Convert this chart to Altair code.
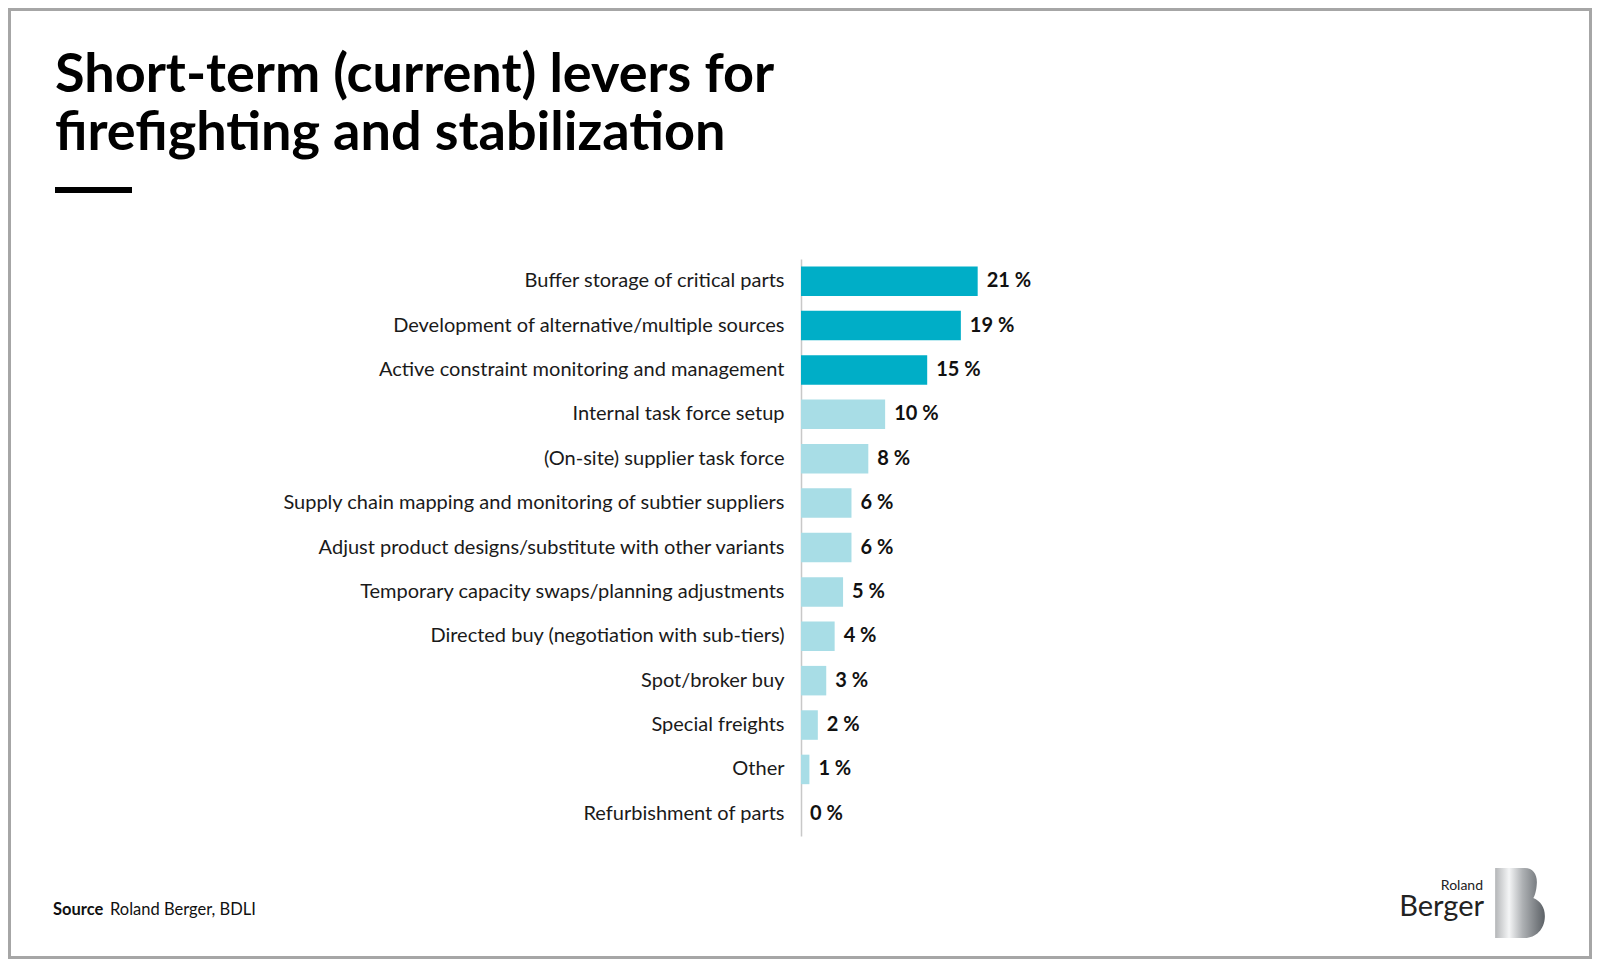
import altair as alt
import pandas as pd

categories = [
    "Buffer storage of critical parts",
    "Development of alternative/multiple sources",
    "Active constraint monitoring and management",
    "Internal task force setup",
    "(On-site) supplier task force",
    "Supply chain mapping and monitoring of subtier suppliers",
    "Adjust product designs/substitute with other variants",
    "Temporary capacity swaps/planning adjustments",
    "Directed buy (negotiation with sub-tiers)",
    "Spot/broker buy",
    "Special freights",
    "Other",
    "Refurbishment of parts",
]
values = [21, 19, 15, 10, 8, 6, 6, 5, 4, 3, 2, 1, 0]
highlight = ["top", "top", "top"] + ["rest"] * 10
title_lines = ["Short-term (current) levers for", "firefighting and stabilization"]
source_label = "Source"
source_text = "Roland Berger, BDLI"

df = pd.DataFrame({
    "cat": categories,
    "val": values,
    "grp": highlight,
    "lab": [f"{v} %" for v in values],
})

FONT = "Lato"
W, H = 700, 577
PL, PT = 793, 251
CW, CH = 1584, 951

yenc = alt.Y("cat:N", sort=categories, title=None,
             scale=alt.Scale(paddingInner=0.335, paddingOuter=0.1675),
             axis=alt.Axis(ticks=False, domainColor="#c8c8c8", domainWidth=1.5,
                           labelFont=FONT, labelFontSize=20, labelColor="#1a1a1a",
                           labelPadding=17, labelLimit=700))
xenc = alt.X("val:Q", scale=alt.Scale(domain=[0, 83.2]), axis=None)

bars = alt.Chart(df).mark_bar().encode(
    x=xenc, y=yenc,
    color=alt.Color("grp:N", scale=alt.Scale(domain=["top", "rest"], range=["#00AEC7", "#A8DDE6"]), legend=None),
)
labels = alt.Chart(df).mark_text(align="left", baseline="middle", dx=9, font=FONT,
                                 fontSize=20, fontWeight="bold", color="#111111").encode(
    x=xenc, y=alt.Y("cat:N", sort=categories), text="lab:N")

one = pd.DataFrame({"k": [0]})

def txt(text, x, y, size, weight="normal", align="left", baseline="alphabetic", color="#000000", **kw):
    return alt.Chart(one).mark_text(text=text, align=align, baseline=baseline, font=FONT,
                                    fontSize=size, fontWeight=weight, color=color, **kw).encode(
        x=alt.value(x), y=alt.value(y))

title = txt(title_lines, -746, -167, 54, "bold", lineHeight=58)
underline = alt.Chart(one).mark_rule(color="#000000", strokeWidth=6).encode(
    x=alt.value(-746), x2=alt.value(-669), y=alt.value(-69))
src1 = txt(source_label, -748, 651, 16.5, "bold", baseline="middle", color="#111111")
src2 = txt(source_text, -691, 651, 16.5, baseline="middle", color="#111111")
logo1 = txt("Roland", 682, 631, 14, align="right", color="#222222")
logo2 = txt("Berger", 683, 657, 29, align="right", color="#222222")

bpath = ("M-0.71,-1 L0.14,-1 C0.38,-1 0.5,-0.8 0.48,-0.55 C0.47,-0.35 0.42,-0.2 0.38,-0.14 "
         "C0.6,-0.05 0.72,0.15 0.71,0.4 C0.70,0.75 0.45,1 0.14,1 L-0.71,1 Z")
grad = alt.LinearGradient(gradient="linear", x1=0, y1=0, x2=1, y2=0,
                          stops=[alt.GradientStop(offset=0, color="#b4b6b8"),
                                 alt.GradientStop(offset=0.28, color="#f4f5f6"),
                                 alt.GradientStop(offset=0.55, color="#aeb1b4"),
                                 alt.GradientStop(offset=1, color="#5c6166")])
logoB = alt.Chart(one).mark_point(shape=bpath, filled=True, fill=grad, opacity=1,
                                  strokeWidth=0, size=4900).encode(
    x=alt.value(719), y=alt.value(644))

border = alt.Chart(one).mark_rect(fill=None, stroke="#a6a6a6", strokeWidth=3).encode(
    x=alt.value(-PL + 1.5), x2=alt.value(CW - PL - 1.5),
    y=alt.value(-PT + 1.5), y2=alt.value(CH - PT - 1.5))

chart = alt.layer(bars, labels, title, underline, src1, src2, logo1, logo2, logoB, border).properties(
    width=W, height=H,
    autosize=alt.AutoSizeParams(type="none"),
    padding={"left": PL, "top": PT, "right": CW - PL - W, "bottom": CH - PT - H},
    background="#ffffff",
).configure_view(stroke=None)

chart.save("out.html", embed_options={"renderer": "svg", "actions": False})
